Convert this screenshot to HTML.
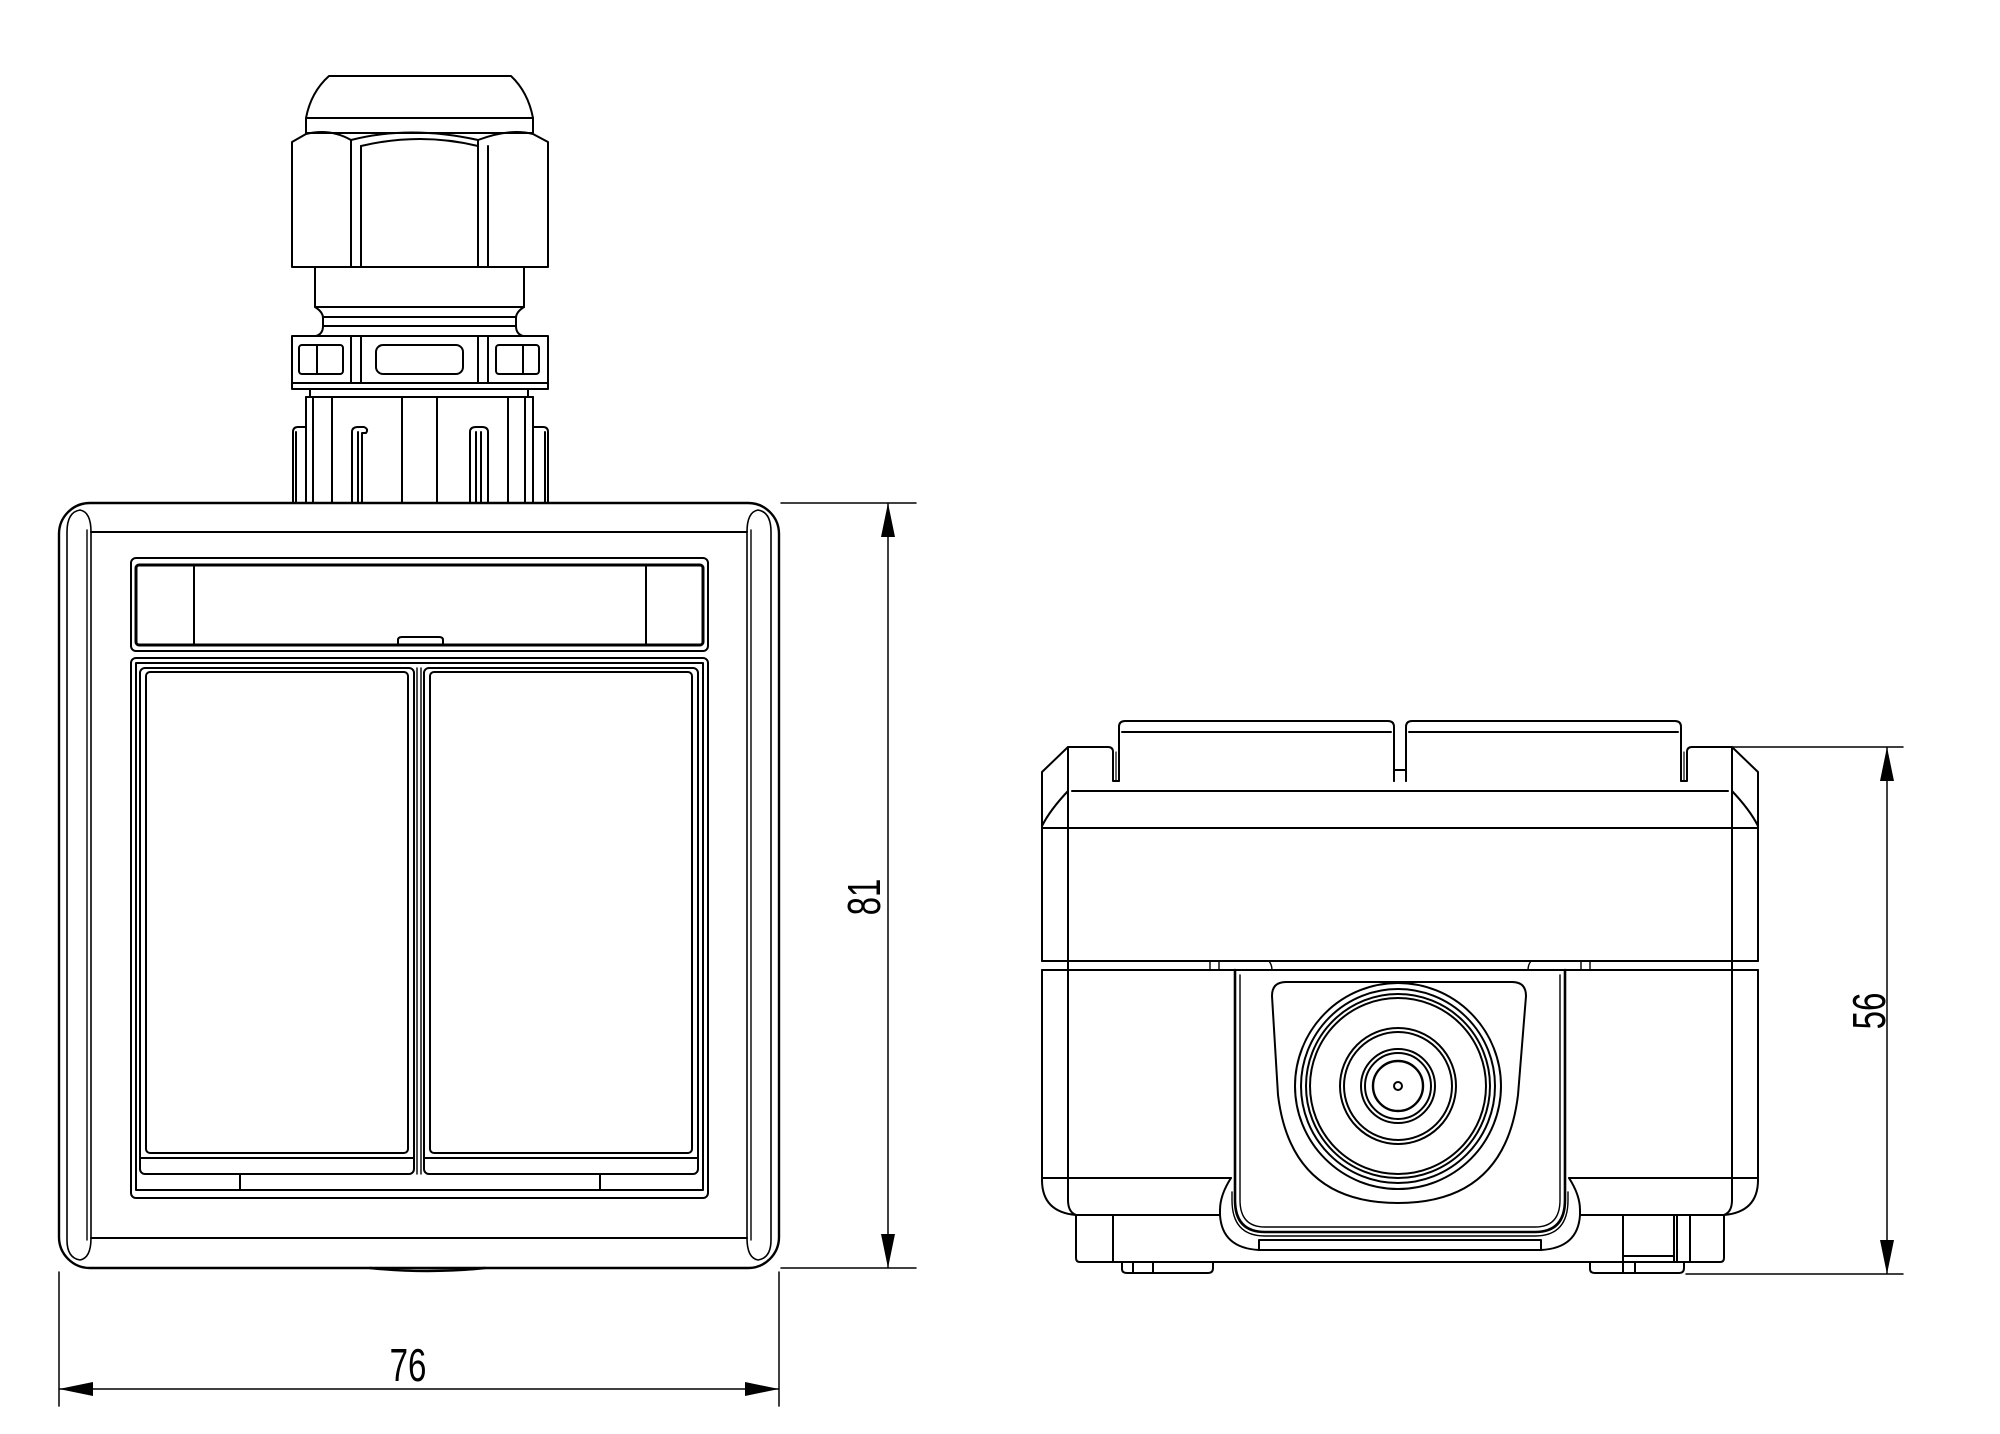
<!DOCTYPE html>
<html><head><meta charset="utf-8"><style>
html,body{margin:0;padding:0;background:#fff;}
svg{display:block;}
text{font-family:"Liberation Sans",sans-serif;fill:#000;}
</style></head><body>
<svg width="2000" height="1434" viewBox="0 0 2000 1434" xmlns="http://www.w3.org/2000/svg">
<g fill="none" stroke="#000" stroke-width="2" stroke-linejoin="round" stroke-linecap="round">
<!-- ===== LEFT VIEW: GLAND ===== -->
<path d="M329,76 H511 Q528,92 533,118 H306 Q311,92 329,76 Z"/>
<rect x="306" y="118" width="227" height="15"/>
<path d="M292,267 V142 L306,134 Q330,128 351,140 Q410,125 478,140 Q510,128 533,134 L548,142 V267 Z"/>
<path d="M351,140 V267 M361,146 V267 M478,140 V267 M488,146 V267"/>
<path d="M361,146 Q420,132 478,146"/>
<rect x="315" y="267" width="209" height="40"/>
<path d="M315,307 Q323,312 323,318 V326 Q323,334 316,336 M524,307 Q516,312 516,318 V326 Q516,334 523,336"/>
<path d="M323,317 H516 M323,326 H516"/>
<rect x="292" y="336" width="256" height="53"/>
<path d="M292,383 H548 M351,336 V383 M361,336 V383 M478,336 V383 M488,336 V383"/>
<rect x="299" y="345" width="44" height="29" rx="3"/><path d="M317,345 V374"/>
<rect x="376" y="345" width="87" height="29" rx="7"/>
<rect x="496" y="345" width="43" height="29" rx="3"/><path d="M523,345 V374"/>
<path d="M310,389 V397 H528 V389"/>
<path d="M306,397 V503 M533,397 V503 M313,397 V503 M332,397 V503 M402,397 V503 M437,397 V503 M508,397 V503 M525,397 V503"/>
<path d="M306,397 H533"/>
<path d="M293,503 V432 Q293,427 298,427 H306 M296,503 V432"/>
<path d="M548,503 V432 Q548,427 543,427 H533 M545,503 V432"/>
<path d="M352,503 V432 Q352,427 358,427 H364 Q369,429 366,433 H362 V503 M358,432 V503"/>
<path d="M470,503 V432 Q470,427 476,427 H482 Q488,427 488,432 V503 M476,432 V503 M481,432 V503"/>
<!-- ===== LEFT VIEW: FRAME ===== -->
<rect x="59" y="503" width="720" height="765" rx="31" stroke-width="2.4"/>
<path d="M91,532 H747 M91,1238 H747"/>
<path d="M67,1240 V532 Q67,512 80,510 Q91,512 91,532 V1238 Q91,1258 80,1260 Q67,1258 67,1240 Z" stroke-width="1.6"/>
<path d="M771,1240 V532 Q771,512 758,510 Q747,512 747,532 V1238 Q747,1258 758,1260 Q771,1258 771,1240 Z" stroke-width="1.6"/>
<path d="M87,530 V1240 M751,530 V1240" stroke-width="1.4"/>
<path d="M370,1268 Q428,1274 485,1268" stroke-width="2.4"/>
<!-- band -->
<rect x="131" y="558" width="577" height="93" rx="5"/>
<rect x="136" y="565" width="567" height="80" rx="3" stroke-width="3"/>
<path d="M194,565 V645 M646,565 V645"/>
<path d="M398,645 V640 Q398,637 402,637 H439 Q443,637 443,640 V645"/>
<!-- rockers -->
<rect x="131" y="658" width="577" height="540" rx="5"/>
<path d="M136,663 H703 M136,1190 H703 M136,663 V1190 M703,663 V1190"/>
<rect x="140" y="668" width="274" height="506" rx="5"/>
<rect x="146" y="672" width="262" height="481" rx="4"/>
<path d="M140,1158 H414"/>
<rect x="424" y="668" width="274" height="506" rx="5"/>
<rect x="430" y="672" width="262" height="481" rx="4"/>
<path d="M424,1158 H698"/>
<path d="M417,668 V1174 M421,668 V1174" stroke-width="1.4"/>
<path d="M240,1174 V1190 M600,1174 V1190"/>
<!-- ===== DIMENSIONS ===== -->
<g stroke-width="1.5">
<path d="M781,503 H916 M781,1268 H916 M888,503 V1268"/>
<path d="M59,1272 V1406 M779,1272 V1406 M59,1389 H779"/>
<path d="M1730,747 H1903 M1686,1274 H1903 M1887,747 V1274"/>
</g>
<!-- ===== RIGHT VIEW ===== -->
<path d="M1119,781 V727 Q1119,721 1125,721 H1388 Q1394,721 1394,727 V781"/>
<path d="M1122,732 H1391"/>
<path d="M1406,781 V727 Q1406,721 1412,721 H1675 Q1681,721 1681,727 V781"/>
<path d="M1409,732 H1678"/>
<path d="M1394,760 V781 M1406,760 V781 M1394,770 H1406"/>
<path d="M1042,961 V772 L1068,747 H1108 Q1113,747 1113,752 V781 H1119"/>
<path d="M1758,961 V772 L1732,747 H1692 Q1687,747 1687,752 V781 H1681"/>
<path d="M1116,752 V781 M1684,752 V781" stroke-width="1.2"/>
<path d="M1068,747 V1200 Q1068,1212 1076,1215 M1732,747 V1200 Q1732,1212 1724,1215"/>
<path d="M1072,791 H1728"/>
<path d="M1068,791 Q1050,810 1042,826 M1732,791 Q1750,810 1758,826"/>
<path d="M1042,828 H1758 M1042,961 H1758"/>
<path d="M1042,970 H1758"/>
<path d="M1042,970 V1180 Q1042,1212 1076,1215 H1220 M1758,970 V1180 Q1758,1212 1724,1215 H1580"/>
<path d="M1042,1178 H1231 M1758,1178 H1569"/>
<path d="M1231,1178 Q1220,1195 1220,1210 V1215 Q1222,1248 1259,1250 H1541 Q1578,1248 1580,1215 V1210 Q1580,1195 1569,1178"/>
<path d="M1259,1240 V1250 M1541,1240 V1250 M1259,1240 H1541"/>
<path d="M1235,970 V1200 Q1235,1232 1265,1232 H1535 Q1565,1232 1565,1200 V970" stroke-width="2.6"/>
<path d="M1240,975 V1200 Q1240,1227 1265,1227 H1535 Q1560,1227 1560,1200 V975" stroke-width="1.4"/>
<path d="M1232,1192 V1200 Q1232,1236 1265,1236 H1535 Q1568,1236 1568,1200 V1192" stroke-width="1.4"/>
<path d="M1210,961 V970 M1219,961 V970 M1581,961 V970 M1590,961 V970" stroke-width="1.4"/>
<path d="M1269,961 Q1272,965 1272,970 M1531,961 Q1528,965 1528,970" stroke-width="1.4"/>
<path d="M1286,982 H1512 Q1526,982 1526,996 L1518,1095 Q1505,1203 1398,1203 Q1291,1203 1278,1095 L1272,996 Q1272,982 1286,982 Z"/>
<circle cx="1398" cy="1086" r="103"/>
<circle cx="1398" cy="1086" r="97"/>
<circle cx="1398" cy="1086" r="92"/>
<circle cx="1398" cy="1086" r="88"/>
<circle cx="1398" cy="1086" r="58"/>
<circle cx="1398" cy="1086" r="54"/>
<circle cx="1398" cy="1086" r="37"/>
<circle cx="1398" cy="1086" r="33"/>
<circle cx="1398" cy="1086" r="25" stroke-width="2.4"/>
<circle cx="1398" cy="1086" r="4"/>
<path d="M1076,1215 V1258 Q1076,1262 1080,1262 H1720 Q1724,1262 1724,1258 V1215"/>
<path d="M1113,1215 V1262"/>
<path d="M1122,1262 V1269 Q1122,1273 1127,1273 H1208 Q1213,1273 1213,1268 V1262 M1133,1262 V1273 M1153,1262 V1273"/>
<path d="M1590,1262 V1269 Q1590,1273 1595,1273 H1679 Q1684,1273 1684,1268 V1262 M1623,1262 V1273 M1635,1262 V1273"/>
<path d="M1623,1215 V1262 M1674,1215 V1262 M1623,1256 H1674 M1677,1215 V1262 M1690,1215 V1262"/>
</g>
<g fill="#000" stroke="none">
<path d="M888,503 L881,537 H895 Z"/>
<path d="M888,1268 L881,1234 H895 Z"/>
<path d="M59,1389 L93,1382 V1396 Z"/>
<path d="M779,1389 L745,1382 V1396 Z"/>
<path d="M1887,747 L1880,781 H1894 Z"/>
<path d="M1887,1274 L1880,1240 H1894 Z"/>
</g>
<text transform="translate(880,897) rotate(-90) scale(0.72,1)" font-size="46" text-anchor="middle">81</text>
<text transform="translate(408,1381) scale(0.72,1)" font-size="46" text-anchor="middle">76</text>
<text transform="translate(1885,1011) rotate(-90) scale(0.72,1)" font-size="46" text-anchor="middle">56</text>
</svg>
</body></html>
